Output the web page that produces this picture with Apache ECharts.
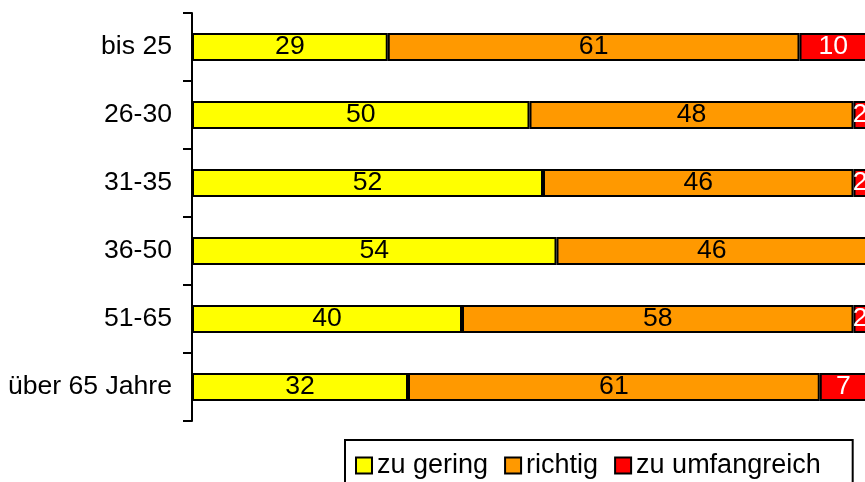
<!DOCTYPE html>
<html>
<head>
<meta charset="utf-8">
<script src="https://cdn.jsdelivr.net/npm/echarts@6/dist/echarts.min.js"></script>
<style>
  html, body { margin: 0; padding: 0; background: #fff; }
  #chart { width: 865px; height: 482px; }
</style>
</head>
<body>
<div id="chart"></div>
<script>
// Age groups, top to bottom
var categories = ['bis 25', '26-30', '31-35', '36-50', '51-65', 'über 65 Jahre'];

// Share of answers per age group (percent)
var zuGering = [29, 50, 52, 54, 40, 32];
var richtig = [61, 48, 46, 46, 58, 61];
var zuUmfangreich = [10, 2, 2, 0, 2, 7];

var seriesNames = ['zu gering', 'richtig', 'zu umfangreich'];
var seriesColors = ['#FFFF00', '#FF9900', '#FF0000'];
var labelColors = ['#000000', '#000000', '#FFFFFF'];
var seriesData = [zuGering, richtig, zuUmfangreich];

var font = '"Liberation Sans", Arial, sans-serif';

var chart = echarts.init(document.getElementById('chart'), null, { renderer: 'canvas' });

var series = seriesData.map(function (values, i) {
  return {
    name: seriesNames[i],
    type: 'bar',
    stack: 'total',
    barWidth: 28,
    data: values,
    itemStyle: {
      color: seriesColors[i],
      borderColor: '#000000',
      borderWidth: 2
    },
    label: {
      show: true,
      position: 'inside',
      color: labelColors[i],
      fontFamily: font,
      fontSize: 26.6,
      formatter: function (p) { return p.value ? String(p.value) : ''; }
    },
    emphasis: { disabled: true },
    animation: false
  };
});

chart.setOption({
  backgroundColor: '#ffffff',
  animation: false,
  grid: {
    left: 192,
    top: 13,
    width: 675,
    height: 408,
    containLabel: false,
    outerBoundsMode: 'none'
  },
  xAxis: {
    type: 'value',
    min: 0,
    max: 100,
    show: false
  },
  yAxis: {
    type: 'category',
    data: categories,
    inverse: true,
    axisLine: { show: true, lineStyle: { color: '#000000', width: 2 } },
    axisTick: { show: true, length: 9, lineStyle: { color: '#000000', width: 2 } },
    axisLabel: {
      margin: 20,
      color: '#000000',
      fontFamily: font,
      fontSize: 26.6
    },
    splitLine: { show: false }
  },
  legend: {
    left: 345,
    top: 440,
    orient: 'horizontal',
    padding: [12, 32, 13, 10],
    itemGap: 16,
    itemWidth: 16,
    itemHeight: 16,
    icon: 'rect',
    borderColor: '#000000',
    borderWidth: 2,
    selectedMode: false,
    textStyle: {
      color: '#000000',
      fontFamily: font,
      fontSize: 27
    },
    data: seriesNames
  },
  series: series
});
</script>
</body>
</html>
